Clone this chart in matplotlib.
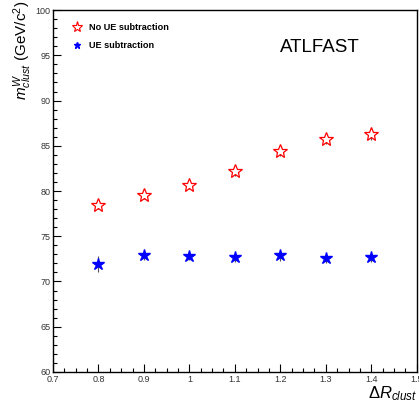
import matplotlib.pyplot as plt
from matplotlib.ticker import MultipleLocator, FormatStrFormatter

dr = [0.8, 0.9, 1.0, 1.1, 1.2, 1.3, 1.4]
m_no_ue = [78.5, 79.6, 80.7, 82.2, 84.4, 85.8, 86.3]
err_no_ue = [0.5, 0.5, 0.5, 0.5, 0.5, 0.6, 0.7]
m_ue = [71.9, 72.9, 72.8, 72.7, 72.9, 72.6, 72.7]
err_ue = [0.9, 0.5, 0.4, 0.6, 0.6, 0.6, 0.6]

plt.rcParams['font.family'] = ['Liberation Sans', 'DejaVu Sans']
plt.rcParams['mathtext.fontset'] = 'custom'
plt.rcParams['mathtext.rm'] = 'Liberation Sans'
plt.rcParams['mathtext.it'] = 'Liberation Sans:italic'

fig = plt.figure(figsize=(4.19, 4.03), dpi=100)
ax = fig.add_axes([0.1265, 0.077, 0.868, 0.898])

ax.errorbar(dr, m_no_ue, yerr=err_no_ue, fmt='none', ecolor='#555555', elinewidth=0.8)
ax.plot(dr, m_no_ue, linestyle='none', marker='*', markersize=10,
        markerfacecolor='white', markeredgecolor='red', markeredgewidth=0.9)
ax.errorbar(dr, m_ue, yerr=err_ue, fmt='none', ecolor='#555555', elinewidth=0.8)
ax.plot(dr, m_ue, linestyle='none', marker='*', markersize=9,
        color='blue')

ax.set_xlim(0.7, 1.5)
ax.set_ylim(60, 100)
ax.xaxis.set_major_locator(MultipleLocator(0.1))
ax.xaxis.set_minor_locator(MultipleLocator(0.025))
ax.yaxis.set_major_locator(MultipleLocator(5))
ax.yaxis.set_minor_locator(MultipleLocator(1))
ax.xaxis.set_major_formatter(FormatStrFormatter('%g'))
ax.tick_params(which='both', direction='in', labelsize=6.5, width=0.8,
               labelcolor='#333333')
ax.tick_params(which='major', length=6)
ax.tick_params(which='minor', length=3)
ax.tick_params(axis='x', pad=2)
ax.tick_params(axis='y', pad=2)
for s in ax.spines.values():
    s.set_linewidth(1.0)

# legend drawn by hand, ROOT style
ax.plot([0.753], [98.1], linestyle='none', marker='*', markersize=8,
        markerfacecolor='white', markeredgecolor='red', markeredgewidth=0.8)
ax.plot([0.753], [96.1], linestyle='none', marker='*', markersize=5, color='blue')
ax.text(0.779, 98.1, 'No UE subtraction', fontsize=6.6, fontweight='bold', va='center')
ax.text(0.779, 96.1, 'UE subtraction', fontsize=6.6, fontweight='bold', va='center')

ax.text(1.199, 95.9, 'ATLFAST', fontsize=13.5, va='center')

fig.text(0.053, 0.752, r'$m_{clust}^{W}$ (GeV/c$^{2}$)', rotation=90,
         ha='center', va='bottom', fontsize=11)
fig.text(0.997, 0.0, r'$\Delta R_{clust}$', ha='right', va='bottom', fontsize=12)

fig.savefig('out.png', dpi=100)
